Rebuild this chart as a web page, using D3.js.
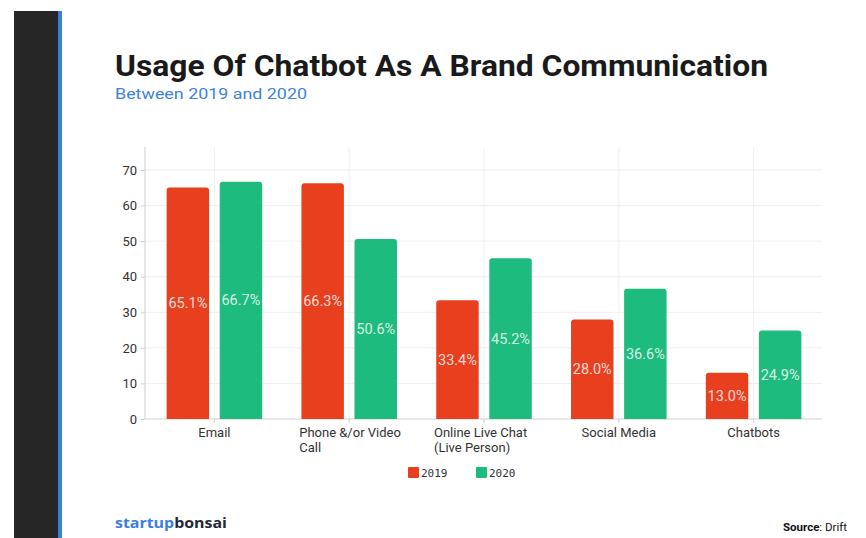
<!DOCTYPE html>
<html>
<head>
<meta charset="utf-8">
<script src="https://cdn.jsdelivr.net/npm/d3@7"></script>
<style>
  html, body { margin: 0; padding: 0; background: #fff; }
  svg { display: block; }
</style>
</head>
<body>
<svg id="chart" width="866" height="538"></svg>
<script>
// Chart data
const categories = ["Email", "Phone &/or Video Call", "Online Live Chat (Live Person)", "Social Media", "Chatbots"];
const categoryLines = [["Email"], ["Phone &/or Video", "Call"], ["Online Live Chat", "(Live Person)"], ["Social Media"], ["Chatbots"]];
const seriesNames = ["2019", "2020"];
const values2019 = [65.1, 66.3, 33.4, 28.0, 13.0];
const values2020 = [66.7, 50.6, 45.2, 36.6, 24.9];
const yTicks = [0, 10, 20, 30, 40, 50, 60, 70];

const colors = { "2019": "#e8401f", "2020": "#1ebb7e" };

const svg = d3.select("#chart");
const W = 866, H = 538;

// Side band
svg.append("rect").attr("x", 14).attr("y", 11).attr("width", 44).attr("height", H - 11).attr("fill", "#262626");
svg.append("rect").attr("x", 58).attr("y", 11).attr("width", 4).attr("height", H - 11).attr("fill", "#3b7ee0");

// Titles
svg.append("text")
  .attr("x", 115).attr("y", 76)
  .attr("font-family", "Roboto, 'Open Sans', sans-serif")
  .attr("font-weight", 700)
  .attr("font-size", 29)
  .attr("fill", "#1a1a1a")
  .attr("textLength", 653).attr("lengthAdjust", "spacingAndGlyphs")
  .text("Usage Of Chatbot As A Brand Communication");

svg.append("text")
  .attr("x", 115).attr("y", 99)
  .attr("font-family", "Roboto, sans-serif")
  .attr("font-size", 15.5)
  .attr("fill", "#3d82e0")
  .attr("textLength", 192).attr("lengthAdjust", "spacingAndGlyphs")
  .text("Between 2019 and 2020");

// Scales
const x0 = d3.scaleBand().domain(categories).range([147, 821]).paddingInner(0).paddingOuter(0);
const x1 = d3.scaleBand().domain(seriesNames).range([0, x0.bandwidth()]).paddingInner(0.2).paddingOuter(0.37);
const y = d3.scaleLinear().domain([0, 70]).range([419, 170]);
const plotTop = 147, plotRight = 822, plotLeft = 145;

// Grid
const grid = svg.append("g");
grid.selectAll("line.h").data(yTicks.filter(d => d > 0)).join("line")
  .attr("x1", plotLeft).attr("x2", plotRight)
  .attr("y1", d => y(d)).attr("y2", d => y(d))
  .attr("stroke", "#efefef").attr("stroke-width", 1);
grid.selectAll("line.v").data(categories).join("line")
  .attr("x1", d => x0(d) + x0.bandwidth() / 2).attr("x2", d => x0(d) + x0.bandwidth() / 2)
  .attr("y1", plotTop).attr("y2", y(0))
  .attr("stroke", "#efefef").attr("stroke-width", 1);

// Y axis
const yAxis = svg.append("g").attr("transform", `translate(${plotLeft},0)`)
  .call(d3.axisLeft(y).tickValues(yTicks).tickSize(4).tickPadding(4));
yAxis.select(".domain").attr("stroke", "#cfcfcf").attr("d", `M0,${plotTop}V${y(0)}`);
yAxis.selectAll(".tick line").attr("stroke", "#cfcfcf");
yAxis.selectAll(".tick text")
  .attr("font-family", "Roboto, sans-serif").attr("font-size", 13).attr("fill", "#333");

// X axis
const xAxis = svg.append("g").attr("transform", `translate(0,${y(0)})`)
  .call(d3.axisBottom(x0).tickSize(4).tickFormat(""));
xAxis.select(".domain").attr("stroke", "#cfcfcf").attr("d", `M${plotLeft},0H${plotRight}`);
xAxis.selectAll(".tick line").attr("stroke", "#cfcfcf");

const xl = svg.append("g");
categories.forEach((c, i) => {
  const lines = categoryLines[i];
  const left = lines.length > 1;
  const cx = x0(c) + x0.bandwidth() / 2;
  const t = xl.append("text")
    .attr("font-family", "Roboto, sans-serif").attr("font-size", 13).attr("fill", "#333")
    .attr("text-anchor", left ? "start" : "middle");
  lines.forEach((ln, j) => {
    t.append("tspan").attr("x", left ? cx - 50 : cx).attr("y", 437 + j * 15).text(ln);
  });
});

// Bars
const seriesData = { "2019": values2019, "2020": values2020 };
const barG = svg.append("g");
function topRounded(x, yTop, w, h, r) {
  r = Math.min(r, h);
  return `M${x},${yTop + h}V${yTop + r}Q${x},${yTop} ${x + r},${yTop}H${x + w - r}Q${x + w},${yTop} ${x + w},${yTop + r}V${yTop + h}Z`;
}
seriesNames.forEach(s => {
  categories.forEach((c, i) => {
    const v = seriesData[s][i];
    const bx = x0(c) + x1(s);
    const bw = x1.bandwidth();
    const by = y(v);
    const bh = y(0) - by;
    barG.append("path").attr("d", topRounded(bx, by, bw, bh, 3)).attr("fill", colors[s]);
    barG.append("text")
      .attr("x", bx + bw / 2).attr("y", by + bh / 2)
      .attr("dy", "0.35em")
      .attr("text-anchor", "middle")
      .attr("font-family", "Roboto, sans-serif").attr("font-size", 14.5)
      .attr("fill", "#fff").attr("fill-opacity", 0.82)
      .text(v.toFixed(1) + "%");
  });
});

// Legend
const legend = svg.append("g");
const legendX = [408, 476];
seriesNames.forEach((s, i) => {
  legend.append("rect").attr("x", legendX[i]).attr("y", 467).attr("width", 11).attr("height", 11)
    .attr("rx", 1).attr("fill", colors[s]);
  legend.append("text").attr("x", legendX[i] + 13).attr("y", 477)
    .attr("font-family", "'DejaVu Sans Mono', 'Liberation Mono', monospace").attr("font-size", 11)
    .attr("fill", "#333").text(s);
});

// Footer
const brand = svg.append("text").attr("x", 115).attr("y", 528)
  .attr("font-family", "'Open Sans', Roboto, sans-serif").attr("font-weight", 700).attr("font-size", 15)
  .attr("textLength", 112).attr("lengthAdjust", "spacingAndGlyphs");
brand.append("tspan").attr("fill", "#3b7ee0").text("startup");
brand.append("tspan").attr("fill", "#1f2a33").text("bonsai");

const src = svg.append("text").attr("x", 847).attr("y", 531).attr("text-anchor", "end")
  .attr("font-family", "Roboto, sans-serif").attr("font-size", 11.5).attr("fill", "#111");
src.append("tspan").attr("font-weight", 700).text("Source");
src.append("tspan").text(": Drift");
</script>
</body>
</html>
